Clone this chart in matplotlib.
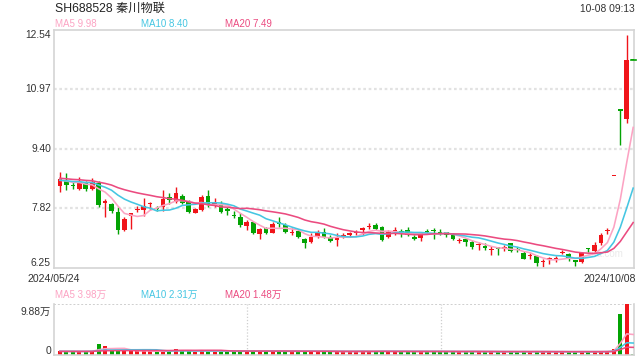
import numpy as np
import pandas as pd
import matplotlib
matplotlib.use('Agg')
import matplotlib.pyplot as plt

plt.rcParams['font.family'] = ['Liberation Sans', 'Noto Sans CJK SC', 'DejaVu Sans']

# 日K数据，2024/05/24 ~ 2024/10/08
opens = [8.41, 8.55, 8.42, 8.33, 8.48, 8.33, 8.50, 7.97, 7.94, 7.73,
         7.25, 7.62, 7.78, 7.78, 7.93, 7.82, 7.85, 8.13, 8.00, 8.15,
         8.02, 7.71, 7.78, 8.15, 7.89, 7.94, 7.77, 7.64, 7.60, 7.37,
         7.45, 7.15, 7.30, 7.18, 7.43, 7.38, 7.16, 7.23, 7.01, 6.94,
         7.06, 7.21, 7.06, 7.00, 7.08, 7.13, 7.17, 7.25, 7.33, 7.38,
         7.32, 7.06, 7.22, 7.21, 7.25, 7.08, 7.03, 7.21, 7.23, 7.20,
         7.19, 7.12, 6.96, 7.02, 6.94, 6.85, 6.84, 6.72, 6.80, 6.76,
         6.90, 6.73, 6.64, 6.56, 6.57, 6.41, 6.47, 6.48, 6.64, 6.62,
         6.46, 6.42, 6.75, 6.71, 6.90, 7.22, 8.68, 10.42, 10.18, 11.75]
highs = [8.77, 8.75, 8.53, 8.64, 8.55, 8.62, 8.55, 8.06, 7.97, 7.85,
         7.59, 7.71, 7.89, 8.09, 8.00, 7.88, 8.32, 8.22, 8.38, 8.20,
         8.05, 7.84, 8.18, 8.31, 8.09, 8.03, 7.85, 7.76, 7.69, 7.52,
         7.47, 7.31, 7.34, 7.45, 7.59, 7.43, 7.30, 7.25, 7.05, 7.16,
         7.25, 7.30, 7.12, 7.16, 7.18, 7.21, 7.25, 7.34, 7.43, 7.43,
         7.36, 7.25, 7.34, 7.27, 7.34, 7.12, 7.21, 7.27, 7.30, 7.27,
         7.21, 7.16, 7.03, 7.05, 6.99, 6.94, 6.90, 6.83, 6.81, 6.86,
         6.92, 6.81, 6.71, 6.64, 6.59, 6.50, 6.55, 6.57, 6.72, 6.64,
         6.46, 6.68, 6.77, 6.94, 7.16, 7.31, 8.68, 10.42, 12.40, 11.75]
lows = [8.26, 8.31, 8.33, 8.31, 8.28, 8.31, 7.85, 7.59, 7.70, 7.14,
        7.22, 7.29, 7.72, 7.62, 7.78, 7.75, 7.76, 7.94, 7.97, 7.94,
        7.71, 7.69, 7.76, 7.87, 7.87, 7.69, 7.65, 7.56, 7.34, 7.25,
        7.14, 7.01, 7.15, 7.16, 7.34, 7.16, 7.12, 7.03, 6.79, 6.90,
        7.03, 7.03, 6.94, 6.84, 7.03, 7.08, 7.12, 7.12, 7.27, 7.25,
        6.96, 7.03, 7.12, 7.06, 7.09, 6.99, 6.97, 7.16, 7.02, 7.13,
        7.06, 6.99, 6.90, 6.83, 6.75, 6.72, 6.72, 6.59, 6.59, 6.71,
        6.68, 6.66, 6.48, 6.50, 6.30, 6.28, 6.36, 6.42, 6.62, 6.44,
        6.29, 6.39, 6.68, 6.65, 6.86, 7.14, 8.68, 9.49, 10.08, 11.74]
closes = [8.59, 8.44, 8.41, 8.53, 8.33, 8.51, 7.91, 7.98, 7.76, 7.25,
          7.55, 7.69, 7.80, 7.88, 7.95, 7.81, 8.06, 8.04, 8.24, 7.97,
          7.74, 7.81, 8.13, 7.94, 7.97, 7.74, 7.76, 7.61, 7.38, 7.45,
          7.18, 7.28, 7.18, 7.41, 7.42, 7.21, 7.17, 7.08, 6.90, 7.08,
          7.17, 7.08, 6.97, 7.01, 7.10, 7.14, 7.18, 7.31, 7.34, 7.27,
          6.99, 7.21, 7.23, 7.20, 7.12, 7.02, 7.18, 7.20, 7.22, 7.155,
          7.12, 7.01, 6.97, 6.94, 6.80, 6.86, 6.77, 6.73, 6.74, 6.77,
          6.71, 6.72, 6.50, 6.57, 6.37, 6.42, 6.48, 6.49, 6.66, 6.48,
          6.41, 6.65, 6.74, 6.86, 7.12, 7.23, 8.68, 10.40, 11.74, 11.74]
# 区间之前19日的收盘价（只用于均线起点，按图中均线起始位置估算）
prior_closes = [8.75, 8.72, 8.70, 8.68, 8.70, 8.66, 8.64, 8.62, 8.65, 8.60,
                8.58, 8.60, 8.55, 8.57, 8.52, 8.55, 8.58, 8.54, 8.56]
# 成交量（万手）
volumes = [0.75, 0.62, 0.70, 0.66, 0.72, 0.80, 2.20, 1.70, 0.78, 0.90,
           0.85, 0.80, 0.72, 0.76, 0.70, 0.68, 0.82, 0.74, 1.20, 0.80,
           0.72, 0.66, 0.85, 0.80, 0.70, 0.74, 0.68, 0.72, 0.78, 0.70,
           0.80, 0.75, 0.66, 0.78, 0.70, 0.74, 0.65, 0.70, 0.82, 0.72,
           0.68, 0.72, 0.66, 0.70, 0.64, 0.66, 0.70, 0.76, 0.72, 0.68,
           0.80, 0.72, 0.66, 0.64, 0.70, 0.66, 0.72, 0.68, 0.74, 0.66,
           0.64, 0.70, 0.62, 0.66, 0.72, 0.64, 0.62, 0.66, 0.64, 0.62,
           0.68, 0.62, 0.70, 0.60, 0.72, 0.64, 0.62, 0.60, 0.66, 0.62,
           0.64, 0.70, 0.62, 0.66, 0.68, 0.74, 1.17, 8.00, 9.88, 0.10]
prior_volumes = [0.72, 0.70, 0.75, 0.68, 0.74, 0.70, 0.72, 0.69, 0.73, 0.70,
                 0.71, 0.74, 0.68, 0.72, 0.70, 0.73, 0.69, 0.71, 0.72]

y_ticks = [6.25, 7.82, 9.40, 10.97, 12.54]
title_text = 'SH688528 秦川物联'
time_text = '10-08 09:13'
date_left, date_right = '2024/05/24', '2024/10/08'
ma_labels = ['MA5 9.98', 'MA10 8.40', 'MA20 7.49']
vol_ma_labels = ['MA5 3.98万', 'MA10 2.31万', 'MA20 1.48万']

RED = '#f0141a'
GREEN = '#03a303'
MA_COLORS = ['#fca3c3', '#45c6e2', '#eb4b80']
FRAME = '#d4d4d4'
TXT = '#333333'

o = np.array(opens); h = np.array(highs); l = np.array(lows); c = np.array(closes)
v = np.array(volumes)
x = np.arange(len(c))
up = c >= o
colors = np.where(up, RED, GREEN)
npre = len(prior_closes)

fig = plt.figure(figsize=(6.4, 3.6), dpi=100)
W, H = 640, 360
ax = fig.add_axes([54 / W, (H - 268) / H, 580 / W, 238.5 / H])
axv = fig.add_axes([54 / W, (H - 355) / H, 580 / W, 51 / H])

xlim = (-0.93, 89.13)

# 价格面板
for yy in y_ticks[1:-1]:
    ax.axhline(yy, color='#e2e2e2', lw=1.6, ls=(0, (1.2, 1.2)), zorder=0)
ax.vlines(x, l, h, colors=colors, lw=1.0, zorder=2)
body_bottom = np.minimum(o, c)
body_h = np.maximum(np.abs(c - o), 0.035)
ax.bar(x, body_h, bottom=body_bottom, width=0.72, color=colors, lw=0, zorder=3)

cs = pd.Series(prior_closes + closes)
for n, col in zip([5, 10, 20], MA_COLORS):
    ma = cs.rolling(n, min_periods=1).mean().values[npre:]
    ax.plot(x, ma, color=col, lw=1.15, zorder=4)

ax.set_xlim(*xlim)
ax.set_ylim(6.25, 12.54)
ax.set_xticks([])
ax.set_yticks([])
for s in ax.spines.values():
    s.set_color(FRAME)
    s.set_linewidth(1.2)

# 右侧最新价标记
ax.plot([88.65, 89.45], [c[-1], c[-1]], color=GREEN, lw=1.2, clip_on=False, zorder=5)

ax.text(-1.4, 12.54, '12.54', ha='right', va='top', fontsize=7.4, color=TXT)
for yy, lab in zip(y_ticks[1:-1], ['7.82', '9.40', '10.97']):
    ax.text(-1.4, yy, lab, ha='right', va='center', fontsize=7.4, color=TXT)
ax.text(-1.4, 6.25, '6.25', ha='right', va='bottom', fontsize=7.4, color=TXT)

# 水印
ax.text(84.5, 6.62, 'sina.com', fontsize=7, color='#dcdcdc', alpha=0.6, ha='center', va='center', zorder=1)

# 成交量面板
axv.bar(x, v, width=0.62, color=colors, lw=0, zorder=2)
vs = pd.Series(prior_volumes + volumes)
for n, col in zip([5, 10, 20], MA_COLORS):
    vma = vs.rolling(n, min_periods=1).mean().values[npre:]
    axv.plot(x, vma, color=col, lw=1.15, zorder=3)
axv.set_xlim(*xlim)
axv.set_ylim(0, 9.88)
axv.set_xticks([])
axv.set_yticks([])
span = xlim[1] - xlim[0]
for frac in [1 / 3, 2 / 3]:
    axv.axvline(xlim[0] + span * frac, color='#cfcfcf', lw=0.9, ls=(0, (1, 1.5)), zorder=0)
axv.spines['top'].set_visible(False)
axv.axhline(9.88, color='#cfcfcf', lw=1.4, ls=(0, (1, 1)), zorder=0)
for k in ['left', 'right', 'bottom']:
    axv.spines[k].set_color(FRAME)
    axv.spines[k].set_linewidth(1.2)
axv.text(-1.4, 8.3, '9.88万', ha='right', va='center', fontsize=7.4, color=TXT)
axv.text(-1.4, 0.8, '0', ha='right', va='center', fontsize=7.4, color=TXT)

# 标题与图例文字
fig.text(55 / W, 1 - 9 / H, title_text, ha='left', va='center', fontsize=8.8, color='#222222')
fig.text(635 / W, 1 - 9 / H, time_text, ha='right', va='center', fontsize=7.4, color=TXT)
for xp, lab, col in zip([55, 141, 225], ma_labels, MA_COLORS):
    fig.text(xp / W, 1 - 24 / H, lab, ha='left', va='center', fontsize=7.0, color=col)
for xp, lab, col in zip([55, 141, 225], vol_ma_labels, MA_COLORS):
    fig.text(xp / W, 1 - 295 / H, lab, ha='left', va='center', fontsize=7.0, color=col)
fig.text(27 / W, 1 - 279 / H, date_left, ha='left', va='center', fontsize=7.6, color=TXT)
fig.text(636 / W, 1 - 279 / H, date_right, ha='right', va='center', fontsize=7.6, color=TXT)

fig.savefig('out.png', dpi=100, facecolor='white')
